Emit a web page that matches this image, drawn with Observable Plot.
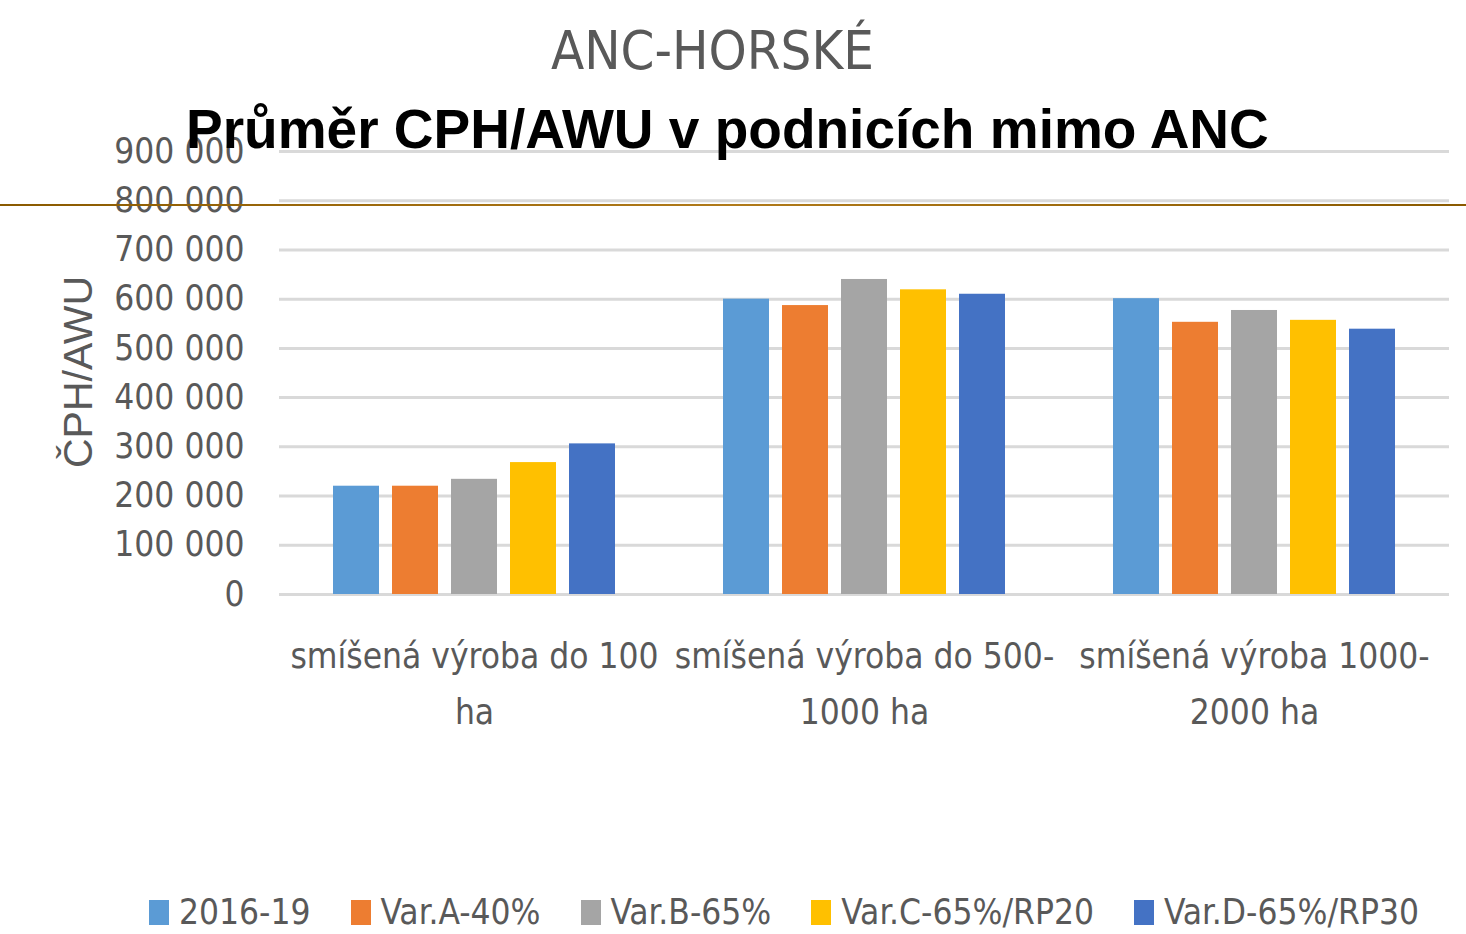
<!DOCTYPE html>
<html>
<head>
<meta charset="utf-8">
<script src="https://cdn.jsdelivr.net/npm/d3@7"></script>
<script src="https://cdn.jsdelivr.net/npm/@observablehq/plot@0.6"></script>
<style>
  html, body { margin: 0; padding: 0; background: #fff; }
  #page { position: relative; width: 1466px; height: 934px; overflow: hidden; font-family: "Liberation Sans Narrow", "DejaVu Sans Condensed", sans-serif; }
  #chart { position: absolute; left: 0; top: 0; }
  #title { position: absolute; left: 0; width: 1425px; top: 24px; text-align: center; font-size: 54px; color: #595959; line-height: 1; }
  #overlay { position: absolute; left: 186px; top: 102px; font-family: "Liberation Sans", Arial, sans-serif; font-weight: bold; font-size: 55px; color: #000; line-height: 1; white-space: nowrap; }
  #rule { position: absolute; left: 0; top: 204px; width: 1466px; height: 2px; background: linear-gradient(90deg, #8a5a00, #b07a1a 50%, #8a5a00); }
  #ylabel { position: absolute; left: 78px; top: 372px; transform: translate(-50%, -50%) rotate(-90deg); font-family: "Liberation Sans", Arial, sans-serif; font-size: 41px; color: #595959; white-space: nowrap; line-height: 1; }
  #legend { position: absolute; left: 149px; top: 895px; display: flex; align-items: center; font-size: 35px; color: #595959; line-height: 1; white-space: nowrap; }
  .item { display: flex; align-items: center; margin-right: 40px; }
  .sw { width: 20px; height: 25px; margin-right: 10px; }
</style>
</head>
<body>
<div id="page">
  <div id="chart"></div>
  <div id="title"></div>
  <div id="rule"></div>
  <div id="overlay"></div>
  <div id="ylabel"></div>
  <div id="legend"></div>
</div>
<script>
const titleText = "ANC-HORSKÉ";
const overlayText = "Průměr CPH/AWU v podnicích mimo ANC";
const yLabel = "ČPH/AWU";
const categories = ["smíšená výroba do 100 ha", "smíšená výroba do 500-1000 ha", "smíšená výroba 1000-2000 ha"];
const categoryLabels = ["smíšená výroba do 100\nha", "smíšená výroba do 500-\n1000 ha", "smíšená výroba 1000-\n2000 ha"];
const series = ["2016-19", "Var.A-40%", "Var.B-65%", "Var.C-65%/RP20", "Var.D-65%/RP30"];
const colors = ["#5B9BD5", "#ED7D31", "#A5A5A5", "#FFC000", "#4472C4"];
const values2016 = [220000, 600000, 601000];
const valuesA = [220000, 587000, 553000];
const valuesB = [234000, 640000, 577000];
const valuesC = [268000, 619000, 557000];
const valuesD = [306000, 610000, 539000];
const yTicks = [0, 100000, 200000, 300000, 400000, 500000, 600000, 700000, 800000, 900000];

const seriesValues = [values2016, valuesA, valuesB, valuesC, valuesD];
const data = [];
categories.forEach((c, i) => {
  series.forEach((s, j) => data.push({category: c, series: s, value: seriesValues[j][i]}));
});

const fmt = d3.formatLocale({decimal: ",", thousands: " ", grouping: [3], currency: ["", ""]}).format(",d");
const labelOf = new Map(categories.map((c, i) => [c, categoryLabels[i]]));

const chart = Plot.plot({
  width: 1466,
  height: 760,
  marginTop: 151,
  marginBottom: 166,
  marginLeft: 278,
  marginRight: 16,
  style: {fontFamily: "'Liberation Sans Narrow', 'DejaVu Sans Condensed', sans-serif", fontSize: "35px", color: "#595959", background: "transparent", overflow: "visible"},
  fx: {domain: categories, padding: 0, label: null},
  x: {domain: series, paddingInner: 0.217, paddingOuter: 0.864, axis: null},
  y: {domain: [0, 900000], label: null},
  color: {domain: series, range: colors},
  marks: [
    Plot.gridY(yTicks, {stroke: "#d9d9d9", strokeOpacity: 1, strokeWidth: 3}),
    Plot.axisY(yTicks, {tickSize: 0, tickPadding: 35, tickFormat: fmt, label: null, fontSize: 35}),
    Plot.axisFx({anchor: "bottom", tickSize: 0, tickPadding: 34, label: null, tickFormat: d => labelOf.get(d), fontSize: 35, lineHeight: 1.6}),
    Plot.barY(data, {fx: "category", x: "series", y: "value", fill: "series"})
  ]
});
document.getElementById("chart").appendChild(chart);

document.getElementById("title").textContent = titleText;
document.getElementById("overlay").textContent = overlayText;
document.getElementById("ylabel").textContent = yLabel;

const legend = document.getElementById("legend");
series.forEach((s, i) => {
  const item = document.createElement("div");
  item.className = "item";
  const sw = document.createElement("div");
  sw.className = "sw";
  sw.style.background = colors[i];
  const t = document.createElement("span");
  t.textContent = s;
  item.appendChild(sw);
  item.appendChild(t);
  legend.appendChild(item);
});
</script>
</body>
</html>
